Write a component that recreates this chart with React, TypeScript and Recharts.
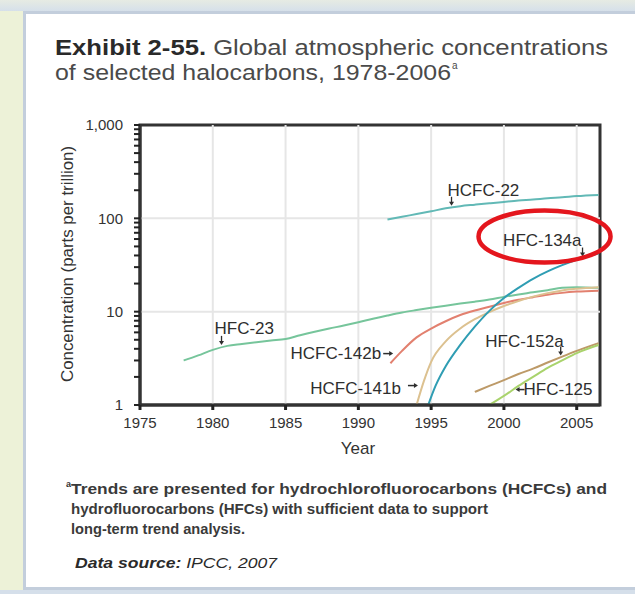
import { LineChart, Line, XAxis, YAxis, ReferenceLine, ReferenceArea, ReferenceDot } from "recharts";

const FONT = "'Liberation Sans', Arial, Helvetica, sans-serif";

// tick values
const X_TICKS = [1975, 1980, 1985, 1990, 1995, 2000, 2005];
const X_GRID = [1980, 1985, 1990, 1995, 2000, 2005];
const Y_MAJOR = [1, 10, 100, 1000];
const Y_MINOR = [2, 3, 4, 5, 6, 7, 8, 9, 20, 30, 40, 50, 60, 70, 80, 90, 200, 300, 400, 500, 600, 700, 800, 900];
const X_MAX = 2006.6;

// series, values (parts per trillion)
const HFC23_YEARS = [1978, 1979, 1980, 1981, 1982, 1983, 1984, 1985, 1986, 1987, 1988, 1989, 1990, 1991, 1992, 1993, 1994, 1995, 1996, 1997, 1998, 1999, 2000, 2001, 2002, 2003, 2004, 2005, 2006.5];
const HFC23 = [3.0, 3.4, 3.9, 4.3, 4.5, 4.7, 4.9, 5.1, 5.6, 6.1, 6.6, 7.1, 7.7, 8.4, 9.1, 9.8, 10.4, 11.0, 11.6, 12.2, 12.8, 13.5, 14.4, 15.3, 16.1, 17.0, 18.0, 18.3, 18.0];

const HCFC22_YEARS = [1992, 1993, 1994, 1995, 1996, 1997, 1998, 1999, 2000, 2001, 2002, 2003, 2004, 2005, 2006.5];
const HCFC22 = [97, 104, 111, 119, 128, 135, 140, 145, 150, 155, 159, 164, 168, 173, 178];

const HCFC142B_YEARS = [1992.2, 1993, 1994, 1995, 1996, 1997, 1998, 1999, 2000, 2001, 2002, 2003, 2004, 2005, 2006.5];
const HCFC142B = [2.8, 3.8, 5.3, 6.6, 7.9, 9.2, 10.3, 11.3, 12.4, 13.4, 14.3, 15.2, 15.9, 16.4, 16.8];

const HCFC141B_YEARS = [1994, 1994.5, 1995, 1996, 1997, 1998, 1999, 2000, 2001, 2002, 2003, 2004, 2005, 2006.5];
const HCFC141B = [1.0, 1.8, 2.9, 4.8, 6.6, 8.3, 9.9, 11.5, 13.0, 14.5, 15.8, 16.9, 17.6, 18.3];

const HFC134A_YEARS = [1994.8, 1995.3, 1996, 1997, 1998, 1999, 2000, 2001, 2002, 2003, 2004, 2005, 2006.5];
const HFC134A = [1.0, 1.6, 2.6, 4.4, 6.9, 10.2, 14, 18, 22.5, 27, 31.5, 36, 42];

const HFC152A_YEARS = [1998, 1999, 2000, 2001, 2002, 2003, 2004, 2005, 2006.5];
const HFC152A = [1.38, 1.6, 1.85, 2.15, 2.45, 2.85, 3.3, 3.8, 4.6];

const HFC125_YEARS = [1999, 2000, 2001, 2002, 2003, 2004, 2005, 2006.5];
const HFC125 = [1.0, 1.25, 1.6, 2.0, 2.5, 3.0, 3.6, 4.4];

const toPoints = (years: number[], vals: number[]) => years.map((year, i) => ({ year, v: vals[i] }));

const SERIES = [
  { name: "HFC-23", data: toPoints(HFC23_YEARS, HFC23), color: "#76c59b" },
  { name: "HCFC-142b", data: toPoints(HCFC142B_YEARS, HCFC142B), color: "#e2806f" },
  { name: "HCFC-141b", data: toPoints(HCFC141B_YEARS, HCFC141B), color: "#dcc190" },
  { name: "HFC-134a", data: toPoints(HFC134A_YEARS, HFC134A), color: "#2f9db3" },
  { name: "HCFC-22", data: toPoints(HCFC22_YEARS, HCFC22), color: "#62b9b6" },
  { name: "HFC-152a", data: toPoints(HFC152A_YEARS, HFC152A), color: "#bd9a68" },
  { name: "HFC-125", data: toPoints(HFC125_YEARS, HFC125), color: "#a9d36c" },
];

// label anchors (where each arrow points)
const LABELS = [
  { text: "HCFC-22", x: 1996.4, y: 133, arrow: "down", dx: -4, dy: -11, anchor: "start" },
  { text: "HFC-134a", x: 2005.4, y: 38, arrow: "down", dx: -1, dy: -12, anchor: "end", ring: true },
  { text: "HFC-23", x: 1980.6, y: 4.3, arrow: "down", dx: -7, dy: -12, anchor: "start" },
  { text: "HFC-152a", x: 2003.9, y: 3.3, arrow: "down", dx: 3, dy: -10, anchor: "end" },
  { text: "HCFC-142b", x: 1992.6, y: 3.3, arrow: "right", dx: -15, dy: 2, anchor: "end" },
  { text: "HCFC-141b", x: 1994.3, y: 1.5, arrow: "right", dx: -20, dy: 5, anchor: "end" },
  { text: "HFC-125", x: 2000.8, y: 1.5, arrow: "left", dx: 8, dy: 6, anchor: "start" },
];

const fmtY = (v: number) => (v === 1000 ? "1,000" : Y_MAJOR.includes(v) ? String(v) : "");

function LabelShape(props: any) {
  const { cx, cy, lab } = props;
  const ink = "#2e2e2e";
  let arrow = null;
  if (lab.arrow === "down") {
    arrow = (
      <g>
        <line x1={cx} y1={cy - 10} x2={cx} y2={cy - 4} stroke={ink} strokeWidth={1.3} />
        <polygon points={`${cx - 2.5},${cy - 5} ${cx + 2.5},${cy - 5} ${cx},${cy - 1}`} fill={ink} />
      </g>
    );
  } else if (lab.arrow === "right") {
    arrow = (
      <g>
        <line x1={cx - 13} y1={cy - 3} x2={cx - 6} y2={cy - 3} stroke={ink} strokeWidth={1.5} />
        <polygon points={`${cx - 7},${cy - 5.5} ${cx - 7},${cy - 0.5} ${cx - 3},${cy - 3}`} fill={ink} />
      </g>
    );
  } else {
    arrow = (
      <g>
        <line x1={cx + 3} y1={cy + 1} x2={cx + 9} y2={cy + 1} stroke={ink} strokeWidth={1.5} />
        <polygon points={`${cx + 4},${cy - 1.5} ${cx + 4},${cy + 3.5} ${cx},${cy + 1}`} fill={ink} />
      </g>
    );
  }
  return (
    <g>
      <text x={cx + lab.dx} y={cy + lab.dy} textAnchor={lab.anchor} fontSize={17} fontFamily={FONT} fill={ink}>
        {lab.text}
      </text>
      {arrow}
      {lab.ring && (
        <ellipse cx={cx - 38} cy={cy - 21} rx={66} ry={26} fill="none" stroke="#e4161d" strokeWidth={4.5} />
      )}
    </g>
  );
}

export default function App() {
  return (
    <div style={{ position: "absolute", left: 0, top: 0, width: 635, height: 594, background: "#edf2d8", overflow: "hidden", fontFamily: FONT }}>
      <div style={{ position: "absolute", left: 0, top: 0, width: 635, height: 11, background: "linear-gradient(#e6ebe3, #d6e0ea)" }} />
      <div style={{ position: "absolute", left: 0, top: 590, width: 635, height: 4, background: "#d5dfea" }} />
      <div
        style={{
          position: "absolute",
          left: 23,
          top: 11,
          width: 640,
          height: 573,
          background: "#ffffff",
          borderLeft: "3px solid #c3cedc",
          borderTop: "3px solid #c3cedc",
          borderBottom: "3px solid #c3cedc",
        }}
      />
      <div style={{ position: "absolute", left: 0, top: 0 }}>
        <LineChart width={635} height={460} margin={{ top: 125, right: 35, left: 40, bottom: 15 }}>
          <XAxis
            dataKey="year"
            type="number"
            domain={[1975, X_MAX]}
            ticks={X_TICKS}
            allowDataOverflow
            height={40}
            tickSize={5}
            tickMargin={7}
            axisLine={{ stroke: "#333", strokeWidth: 3 }}
            tickLine={{ stroke: "#222", strokeWidth: 3 }}
            tick={{ fontSize: 15, fill: "#333", fontFamily: FONT }}
          />
          <YAxis
            dataKey="v"
            type="number"
            scale="log"
            domain={[1, 1000]}
            allowDataOverflow
            ticks={[...Y_MAJOR, ...Y_MINOR].sort((a, b) => a - b)}
            interval={0}
            tickFormatter={fmtY}
            width={100}
            tickSize={6}
            tickMargin={11}
            axisLine={{ stroke: "#333", strokeWidth: 3 }}
            tickLine={{ stroke: "#222", strokeWidth: 2 }}
            tick={{ fontSize: 15, fill: "#333", fontFamily: FONT }}
          />
          {X_GRID.map((x) => (
            <ReferenceLine key={"gx" + x} x={x} stroke="#e6e6e6" strokeWidth={2} />
          ))}
          {[10, 100].map((y) => (
            <ReferenceLine key={"gy" + y} y={y} stroke="#e6e6e6" strokeWidth={2} />
          ))}
          {SERIES.map((s) => (
            <Line
              key={s.name}
              data={s.data}
              dataKey="v"
              name={s.name}
              type="monotone"
              stroke={s.color}
              strokeWidth={2}
              dot={false}
              isAnimationActive={false}
            />
          ))}
          <ReferenceArea x1={1975} x2={X_MAX} y1={1} y2={1000} fill="none" stroke="#333" strokeWidth={3} ifOverflow="visible" />
          {LABELS.map((lab) => (
            <ReferenceDot
              key={lab.text}
              x={lab.x}
              y={lab.y}
              r={0}
              ifOverflow="visible"
              shape={(p: any) => <LabelShape {...p} lab={lab} />}
            />
          ))}
        </LineChart>
      </div>
      <svg width={635} height={594} style={{ position: "absolute", left: 0, top: 0, pointerEvents: "none" }}>
        <text x={55} y={55} fontSize={22} fontFamily={FONT} textLength={553} lengthAdjust="spacingAndGlyphs">
          <tspan fontWeight="bold" fill="#2a2a2a">Exhibit 2-55.</tspan>
          <tspan fill="#4a4a4a"> Global atmospheric concentrations</tspan>
        </text>
        <text x={55} y={80} fontSize={22} fontFamily={FONT} fill="#4a4a4a" textLength={396} lengthAdjust="spacingAndGlyphs">
          of selected halocarbons, 1978-2006
        </text>
        <text x={452} y={69} fontSize={10} fontFamily={FONT} fill="#4a4a4a">a</text>
        <text
          x={0}
          y={0}
          fontSize={16}
          fontFamily={FONT}
          fill="#333"
          textAnchor="middle"
          textLength={236}
          lengthAdjust="spacingAndGlyphs"
          transform="translate(73,264) rotate(-90)"
        >
          Concentration (parts per trillion)
        </text>
        <text x={358} y={454} fontSize={17} fontFamily={FONT} fill="#333" textAnchor="middle">
          Year
        </text>
        <text x={66} y={487} fontSize={9} fontFamily={FONT} fontWeight="bold" fill="#333">a</text>
        <text x={71} y={494} fontSize={15} fontFamily={FONT} fontWeight="bold" fill="#3a3a3a" textLength={536} lengthAdjust="spacingAndGlyphs">
          Trends are presented for hydrochlorofluorocarbons (HCFCs) and
        </text>
        <text x={71} y={514} fontSize={15} fontFamily={FONT} fontWeight="bold" fill="#3a3a3a" textLength={417} lengthAdjust="spacingAndGlyphs">
          hydrofluorocarbons (HFCs) with sufficient data to support
        </text>
        <text x={71} y={534} fontSize={15} fontFamily={FONT} fontWeight="bold" fill="#3a3a3a" textLength={174} lengthAdjust="spacingAndGlyphs">
          long-term trend analysis.
        </text>
        <text x={75} y={568} fontSize={15} fontFamily={FONT} fill="#2a2a2a" fontStyle="italic" textLength={202} lengthAdjust="spacingAndGlyphs">
          <tspan fontWeight="bold">Data source:</tspan>
          <tspan> IPCC, 2007</tspan>
        </text>
      </svg>
    </div>
  );
}
